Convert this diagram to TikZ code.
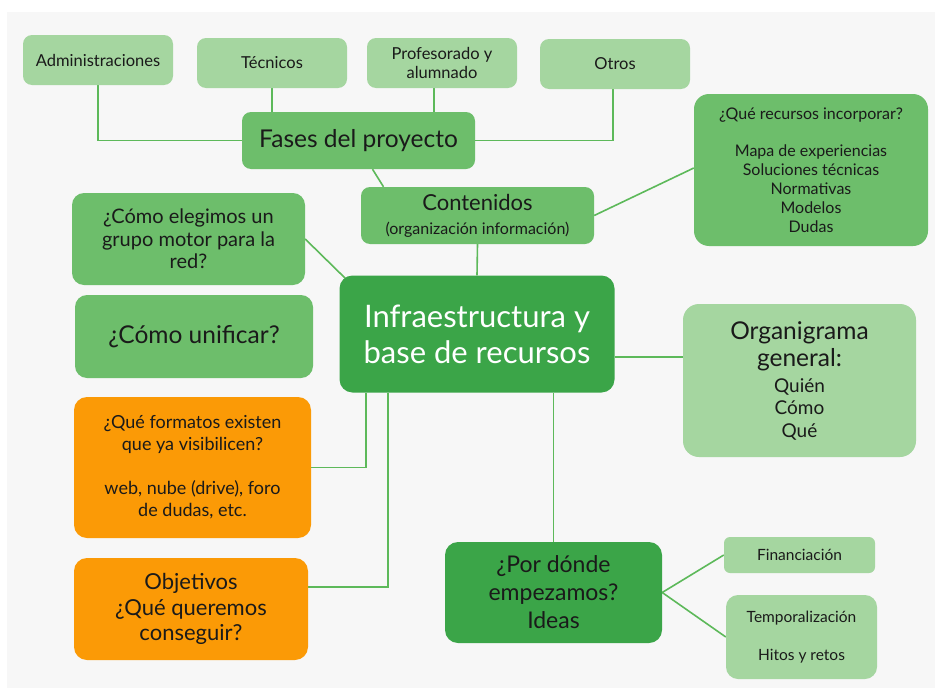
\documentclass[tikz,border=0pt]{standalone}
\usepackage{fontspec}
\setmainfont{Lato}
\usetikzlibrary{backgrounds}

\definecolor{bggray}{HTML}{F7F7F7}
\definecolor{lightgreen}{HTML}{A5D6A0}
\definecolor{midgreen}{HTML}{6DBE6B}
\definecolor{darkgreen}{HTML}{3BA548}
\definecolor{orangebox}{HTML}{FB9A06}
\definecolor{linegreen}{HTML}{5DB95A}
\definecolor{inktext}{HTML}{1A1A1A}

\newcommand{\fsz}[2]{\fontsize{#1}{#2}\selectfont}

\tikzset{
    box/.style={rectangle, rounded corners=9pt, text=inktext, align=center, inner sep=2pt},
    lightbox/.style={box, fill=lightgreen},
    midbox/.style={box, fill=midgreen},
    darkbox/.style={box, fill=darkgreen, rounded corners=13pt},
    orbox/.style={box, fill=orangebox, rounded corners=13pt},
    link/.style={draw=linegreen, line width=1.6pt}
}

\begin{document}
\begin{tikzpicture}[x=1pt, y=-1pt]
    \useasboundingbox (0,0) rectangle (935,688);
    \begin{scope}[on background layer]
        \fill[bggray] (7,12) rectangle (935,688);
    \end{scope}

    % top row
    \node[lightbox, minimum width=150, minimum height=50, font=\fsz{16.5}{19}] (admin)    at (98,60)  {Administraciones};
    \node[lightbox, minimum width=150, minimum height=50, font=\fsz{16.5}{19}] (tecnicos) at (272,63) {Técnicos};
    \node[lightbox, minimum width=150, minimum height=50, font=\fsz{16.5}{19}] (profes)   at (442,63) {Profesorado y\\alumnado};
    \node[lightbox, minimum width=150, minimum height=50, font=\fsz{16.5}{19}] (otros)    at (615,64) {Otros};

    \node[midbox, minimum width=233, minimum height=57, font=\fsz{24.5}{27}] (fases) at (358.5,140.5) {Fases del proyecto};
    \node[midbox, minimum width=233, minimum height=57, font=\fsz{22}{24}] (contenidos) at (477.5,215.5)
        {Contenidos\\{\fsz{16}{19}(organización información)}};
    \node[midbox, minimum width=234, minimum height=152, rounded corners=15pt, font=\fsz{16}{19}] (recursos) at (811,170)
        {¿Qué recursos incorporar?\\[18pt]Mapa de experiencias\\Soluciones técnicas\\Normativas\\Modelos\\Dudas};

    % left column
    \node[midbox, minimum width=233, minimum height=92, rounded corners=12pt, font=\fsz{20}{22.5}] (elegimos) at (188.5,239)
        {¿Cómo elegimos un\\grupo motor para la\\red?};
    \node[midbox, minimum width=238, minimum height=83, rounded corners=12pt, font=\fsz{24.5}{27}] (unificar) at (194,336.5)
        {¿Cómo unificar?};
    \node[orbox, minimum width=237, minimum height=141, font=\fsz{18}{22}] (formatos) at (192.5,467.5)
        {¿Qué formatos existen\\que ya visibilicen?\\[22pt]web, nube (drive), foro\\de dudas, etc.};
    \node[orbox, minimum width=234, minimum height=102, font=\fsz{22}{25.5}] (objetivos) at (191,609)
        {Objetivos\\¿Qué queremos\\conseguir?};

    % centre
    \node[darkbox, minimum width=275, minimum height=117, text=white, font=\fsz{31}{36}] (infra) at (477,334)
        {Infraestructura y\\base de recursos};

    % right side
    \node[lightbox, minimum width=233, minimum height=153, rounded corners=16pt, font=\fsz{24.5}{27}] (organigrama) at (799.5,380.5)
        {Organigrama\\general:\\[-1pt]{\fsz{19}{22}Quién}\\[-4.5pt]{\fsz{19}{22}Cómo}\\[-4.5pt]{\fsz{19}{22}Qué}};
    \node[darkbox, minimum width=217, minimum height=101, font=\fsz{23}{28}] (pordonde) at (553.5,592.5)
        {¿Por dónde\\empezamos?\\Ideas};
    \node[lightbox, minimum width=151, minimum height=36, rounded corners=6pt, font=\fsz{15.5}{19}] (financiacion) at (799.5,555)
        {Financiación};
    \node[lightbox, minimum width=151, minimum height=84, rounded corners=12pt, font=\fsz{15.5}{19}] (temporal) at (801.5,637)
        {Temporalización\\[19pt]Hitos y retos};

    % connectors
    \begin{scope}[on background layer]
        \draw[link] (admin.south) |- (fases.west);
        \draw[link] (tecnicos.south) -- (tecnicos.south |- fases.north);
        \draw[link] ([xshift=-8]profes.south) -- ([xshift=-8]profes.south |- fases.north);
        \draw[link] ([xshift=-2]otros.south) |- (fases.east);
        \draw[link] ([xshift=14]fases.south) -- ([xshift=-94]contenidos.north);
        \draw[link] (contenidos.east) -- ([yshift=2]recursos.west);
        \draw[link] (contenidos.south) -- (infra.north);
        \draw[link] (elegimos.east) -- ([shift={(7,4)}]infra.north west);
        \draw[link] ([yshift=-23]infra.east) -- ([yshift=-23]infra.east -| organigrama.west);
        \draw[link] (formatos.east) -| ([xshift=-111]infra.south);
        \draw[link] ([yshift=22]objetivos.east) -| ([xshift=-89]infra.south);
        \draw[link] (pordonde.north) -- (pordonde.north |- infra.south);
        \draw[link] (pordonde.east) -- (financiacion.west);
        \draw[link] (pordonde.east) -- (temporal.west);
    \end{scope}
\end{tikzpicture}
\end{document}
